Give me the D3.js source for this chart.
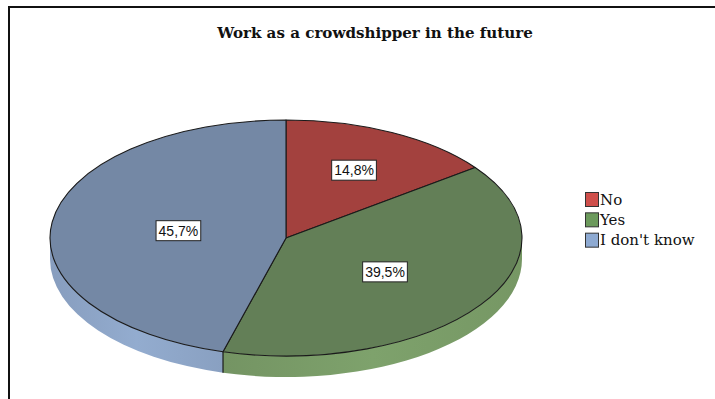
<!DOCTYPE html>
<html>
<head>
<meta charset="utf-8">
<script src="https://cdn.jsdelivr.net/npm/d3@7/dist/d3.min.js"></script>
<style>
  html, body { margin: 0; padding: 0; background: #fff; }
  svg { display: block; }
</style>
</head>
<body>
<svg id="chart" width="715" height="399"></svg>
<script>
// Survey answers and their shares (%)
const categories = ["No", "Yes", "I don't know"];
const shares = [14.8, 39.5, 45.7];
const labels = ["14,8%", "39,5%", "45,7%"];
const title = "Work as a crowdshipper in the future";

const topColors = ["#a3413e", "#637f57", "#7488a5"];
const sideColors = ["#c25a55", "#7a9c68", "#8ea6c8"];
const legendColors = ["#cf4f4b", "#6c9a5c", "#8eaad2"];

const W = 715, H = 399;
const svg = d3.select("#chart");

// frame
svg.append("path")
  .attr("d", `M9,${H + 2} L9,7 L${W + 2},7`)
  .attr("fill", "none").attr("stroke", "#111").attr("stroke-width", 2);

svg.append("text")
  .attr("x", 375).attr("y", 38)
  .attr("text-anchor", "middle")
  .attr("font-family", "'DejaVu Serif', serif")
  .attr("font-weight", "bold").attr("font-size", 15.1)
  .attr("fill", "#111")
  .text(title);

// elliptical pie geometry
const cx = 286, cy = 238, rx = 236, ry = 118, depth = 21;
const pt = (a, dy = 0) => [cx + rx * Math.sin(a), cy - ry * Math.cos(a) + dy];

const pie = d3.pie().sort(null).value(d => d)(shares);

const defs = svg.append("defs");
pie.forEach((d, i) => {
  const g = defs.append("linearGradient").attr("id", "side" + i)
    .attr("x1", 0).attr("x2", 1).attr("y1", 0).attr("y2", 0);
  const c = d3.color(sideColors[i]);
  g.append("stop").attr("offset", "0%").attr("stop-color", c.darker(0.15));
  g.append("stop").attr("offset", "50%").attr("stop-color", c.brighter(0.1));
  g.append("stop").attr("offset", "100%").attr("stop-color", c.darker(0.1));
});

// side walls for the front half of the disc
const sideG = svg.append("g");
pie.forEach((d, i) => {
  const s = Math.max(d.startAngle, Math.PI / 2);
  const e = Math.min(d.endAngle, 3 * Math.PI / 2);
  if (e <= s) return;
  const p0 = pt(s), p1 = pt(e), q1 = pt(e, depth), q0 = pt(s, depth);
  const large = (e - s) > Math.PI ? 1 : 0;
  sideG.append("path")
    .attr("d", `M${p0} A${rx},${ry} 0 ${large} 1 ${p1} L${q1} A${rx},${ry} 0 ${large} 0 ${q0} Z`)
    .attr("fill", `url(#side${i})`)
    .attr("stroke", "none");
});
// vertical edges where a slice boundary meets the front wall
pie.forEach(d => {
  const a = d.endAngle;
  if (a > Math.PI / 2 && a < 3 * Math.PI / 2) {
    sideG.append("line")
      .attr("x1", pt(a)[0]).attr("y1", pt(a)[1])
      .attr("x2", pt(a, depth)[0]).attr("y2", pt(a, depth)[1])
      .attr("stroke", "#1a1a1a").attr("stroke-width", 1.2);
  }
});

// top face
const topG = svg.append("g");
pie.forEach((d, i) => {
  const p0 = pt(d.startAngle), p1 = pt(d.endAngle);
  const large = (d.endAngle - d.startAngle) > Math.PI ? 1 : 0;
  topG.append("path")
    .attr("d", `M${cx},${cy} L${p0} A${rx},${ry} 0 ${large} 1 ${p1} Z`)
    .attr("fill", topColors[i])
    .attr("stroke", "#1a1a1a").attr("stroke-width", 1.1)
    .attr("stroke-linejoin", "round");
});

// value labels at the sector centroids
pie.forEach((d, i) => {
  const half = (d.endAngle - d.startAngle) / 2;
  const mid = d.startAngle + half;
  const f = 2 * Math.sin(half) / (3 * half);
  const x = cx + rx * f * Math.sin(mid);
  const y = cy - ry * f * Math.cos(mid);
  const g = svg.append("g").attr("transform", `translate(${x},${y})`);
  const t = g.append("text")
    .attr("text-anchor", "middle").attr("dy", "0.36em")
    .attr("font-family", "'Liberation Sans', Arial, sans-serif")
    .attr("font-size", 14).attr("fill", "#111")
    .text(labels[i]);
  const bb = t.node().getBBox();
  g.insert("rect", "text")
    .attr("x", bb.x - 2.5).attr("y", -10)
    .attr("width", bb.width + 5).attr("height", 20)
    .attr("fill", "#fff").attr("stroke", "#222").attr("stroke-width", 1);
});

// legend
const legend = svg.append("g").attr("transform", "translate(585,192)");
const row = d3.scaleBand().domain(categories).range([0, 61]);
categories.forEach((c, i) => {
  const y = row(c);
  legend.append("rect")
    .attr("x", 0.5).attr("y", y + 0.5).attr("width", 13).attr("height", 14)
    .attr("fill", legendColors[i]).attr("stroke", "#333").attr("stroke-width", 1);
  legend.append("text")
    .attr("x", 15).attr("y", y + 12.5)
    .attr("font-family", "'DejaVu Serif', serif")
    .attr("font-size", 15).attr("fill", "#111")
    .text(c);
});
</script>
</body>
</html>
